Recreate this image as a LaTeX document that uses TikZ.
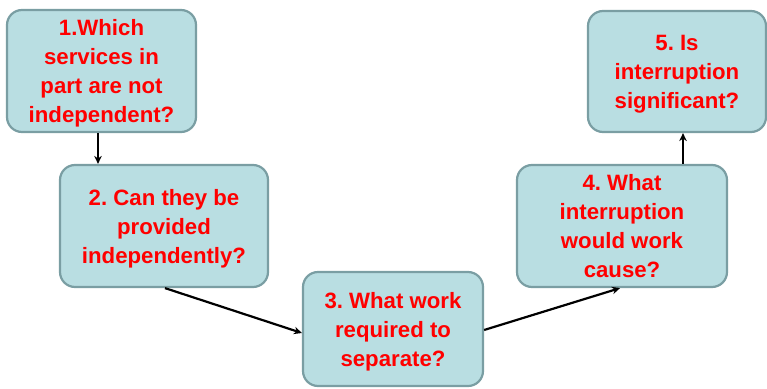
\documentclass[tikz,border=0pt]{standalone}
\usepackage{fontspec}
\setmainfont{Liberation Sans}
\usetikzlibrary{arrows.meta,calc}
\definecolor{boxfill}{RGB}{185,222,226}
\definecolor{boxline}{RGB}{122,158,163}
\definecolor{txtred}{RGB}{255,0,0}
\frenchspacing
\begin{document}
\begin{tikzpicture}[x=1pt,y=-1pt,
  qbox/.style={draw=boxline,line width=2.2pt,fill=boxfill,rounded corners=15pt,
    align=center,inner sep=0pt,text=txtred,text depth=-3pt,
    font=\fontsize{22.2}{29}\selectfont\bfseries},
  conn/.style={line width=2.2pt,-{Stealth[length=8pt,width=7.5pt]}}]
\useasboundingbox (0,0) rectangle (767,388);
\node[qbox,minimum width=189pt,minimum height=122pt] (b1) at (101.5,71) {1.Which\\services in\\part are not\\independent?};
\node[qbox,minimum width=208pt,minimum height=122pt] (b2) at (164,226) {2. Can they be\\provided\\independently?};
\node[qbox,minimum width=180pt,minimum height=114pt] (b3) at (393,329) {3. What work\\required to\\separate?};
\node[qbox,minimum width=210pt,minimum height=122pt] (b4) at (622,226) {4. What\\interruption\\would work\\cause?};
\node[qbox,minimum width=178pt,minimum height=121pt] (b5) at (677,71.5) {5. Is\\interruption\\significant?};
\draw[conn] ($(b1.south)+(-3.5,0)$) -- ($(b2.north)+(-66,0)$);
\draw[conn] ($(b2.south)+(1,0)$) -- ($(b3.west)+(0,4)$);
\draw[conn] ($(b3.east)+(0,1)$) -- ($(b4.south)+(-2,0)$);
\draw[conn] ($(b4.north)+(61,0)$) -- ($(b5.south)+(6,0)$);
\end{tikzpicture}
\end{document}
